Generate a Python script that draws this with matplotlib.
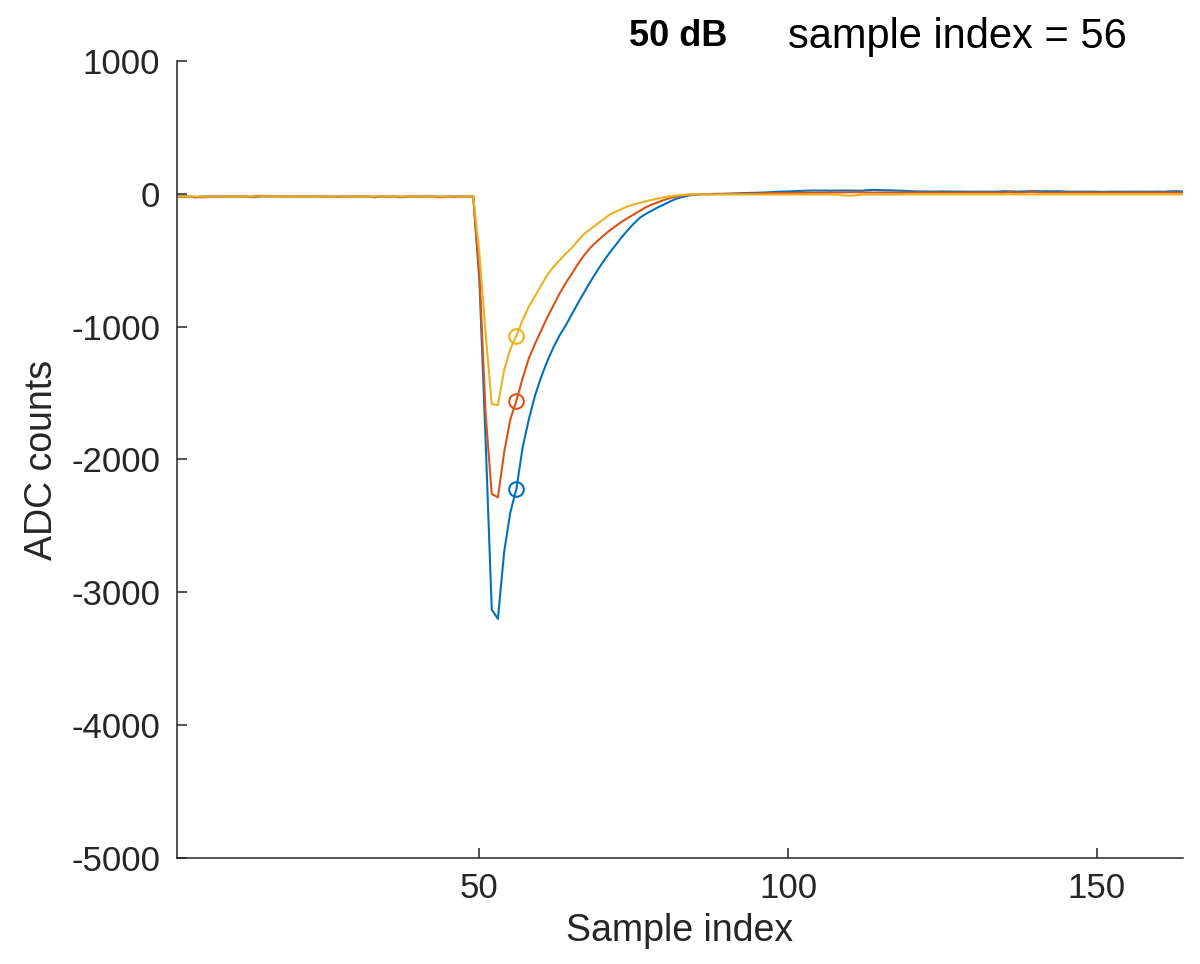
import numpy as np
import matplotlib.pyplot as plt

plt.rcParams['font.family'] = ['Liberation Sans', 'DejaVu Sans']

# sample numbers 1..164
samples = np.arange(1, 165)
marker_index = 56

# baseline before the pulse (samples 1..48)
blue_pre = [-20, -20, -22, -26, -20, -19, -20, -20, -21, -20, -20, -20, -25, -24, -20, -20,
            -19, -20, -20, -21, -20, -20, -20, -19, -20, -21, -20, -20, -20, -20, -20, -20,
            -26, -20, -20, -20, -25, -24, -20, -20, -20, -19, -20, -21, -20, -20, -20, -20]
red_pre = [-20, -20, -20, -24, -26, -24, -20, -20, -20, -20, -20, -20, -20, -15, -16, -20,
           -20, -20, -20, -20, -20, -20, -20, -20, -20, -20, -24, -20, -20, -20, -20, -20,
           -20, -20, -25, -20, -20, -20, -20, -20, -20, -20, -25, -26, -20, -24, -20, -20]
yellow_pre = [-20] * 48

# pulse (samples 49..86)
blue_pulse = [-20, -650, -1850, -3130, -3200, -2700, -2400, -2220, -1910, -1700, -1520, -1380,
              -1260, -1155, -1065, -990, -905, -820, -740, -660, -585, -515, -450, -390,
              -330, -275, -225, -180, -150, -125, -100, -78, -55, -35, -22, -12, -6, -3]
red_pulse = [-20, -600, -1650, -2260, -2285, -1950, -1700, -1556, -1390, -1240, -1130, -1030,
             -930, -840, -750, -670, -600, -525, -460, -405, -360, -318, -280, -245,
             -212, -183, -155, -128, -100, -80, -62, -45, -30, -20, -12, -6, -3, -2]
yellow_pulse = [-20, -450, -1050, -1583, -1590, -1330, -1170, -1068, -950, -850, -770, -690,
                -610, -550, -500, -450, -405, -350, -300, -265, -230, -195, -160, -135,
                -115, -95, -80, -68, -55, -45, -35, -25, -18, -12, -8, -5, -3, -3]

# tail after the pulse (samples 87..164)
blue_tail = [-2, 0, 0, 0, 2, 4, 6, 7, 8, 10, 12, 15, 17, 18, 20, 22, 24, 25, 25, 25,
             24, 25, 25, 25, 24, 23, 28, 30, 28, 27, 26, 24, 22, 20, 18, 18, 17, 17, 18, 18,
             17, 17, 16, 16, 17, 16, 16, 17, 20, 19, 17, 18, 20, 20, 19, 20, 19, 20, 17, 16,
             16, 17, 16, 16, 15, 16, 16, 16, 16, 16, 17, 16, 16, 17, 16, 19, 20, 17]
red_tail = [-3, -2, -1, 0, 0, 1, 2, 2, 3, 4, 5, 6, 6, 7, 7, 8, 8, 8, 9, 9,
            10, 10, 11, 12, 12, 11, 10, 10, 10, 10, 10, 10, 10, 10, 10, 10, 10, 10, 10, 10,
            10, 10, 10, 10, 10, 10, 10, 10, 10, 14, 10, 10, 14, 14, 10, 10, 10, 10, 10, 10,
            10, 10, 10, 10, 10, 10, 10, 10, 10, 10, 10, 10, 10, 10, 10, 10, 10, 10]
yellow_tail = [-4, -5, -5, -5, -5, -5, -5, -5, -5, -5, -5, -5, -5, -5, -5, -5, -5, -5, -5, -5,
               -5, -5, -12, -14, -12, -5, -5, -5, -5, -5, -5, -5, -4, -4, -4, -4, -4, -4, -4, -4,
               -4, -4, -4, -4, -4, -4, -4, -4, -4, -4, -4, -4, -4, -4, -4, -4, -4, -4, -4, -4,
               -4, -4, -4, -4, -4, -4, -4, -4, -4, -4, -4, -4, -4, -4, -4, -4, -4, -4]

blue = np.array(blue_pre + blue_pulse + blue_tail)
red = np.array(red_pre + red_pulse + red_tail)
yellow = np.array(yellow_pre + yellow_pulse + yellow_tail)

colors = ['#0072BD', '#D95319', '#EDB120']
axis_color = '#262626'

fig = plt.figure(figsize=(12, 9.64), dpi=100)
ax = fig.add_axes([0.1475, 0.110, 0.8383, 0.8267])

for series, c in zip([blue, red, yellow], colors):
    ax.plot(samples, series, color=c, lw=1.5)
for series, c in zip([blue, red, yellow], colors):
    k = marker_index - 1
    ax.plot(samples[k], series[k], 'o', mfc='none', mec=c, ms=10.5, mew=1.5)

ax.set_xlim(1, 164)
ax.set_ylim(-5000, 1000)
ax.set_xticks([50, 100, 150])
ax.set_yticks(np.arange(-5000, 1001, 1000))
ax.set_yticklabels([str(v) for v in range(-5000, 1001, 1000)])

for side in ['top', 'right']:
    ax.spines[side].set_visible(False)
for side in ['left', 'bottom']:
    ax.spines[side].set_color(axis_color)
    ax.spines[side].set_linewidth(1.1)
ax.tick_params(direction='in', length=7, width=1.1, colors=axis_color,
               labelsize=25)
ax.tick_params(axis='y', pad=12)
ax.tick_params(axis='x', pad=10)

ax.set_xlabel('Sample index', fontsize=27, color=axis_color, labelpad=6)
ax.set_ylabel('ADC counts', fontsize=27, color=axis_color, labelpad=8)

fig.text(0.565, 0.962, '50 dB', fontsize=26, fontweight='bold', ha='center', va='center')
fig.text(0.657, 0.962, 'sample index = ' + str(marker_index), fontsize=30, ha='left', va='center')

fig.savefig('out.png', dpi=100)
